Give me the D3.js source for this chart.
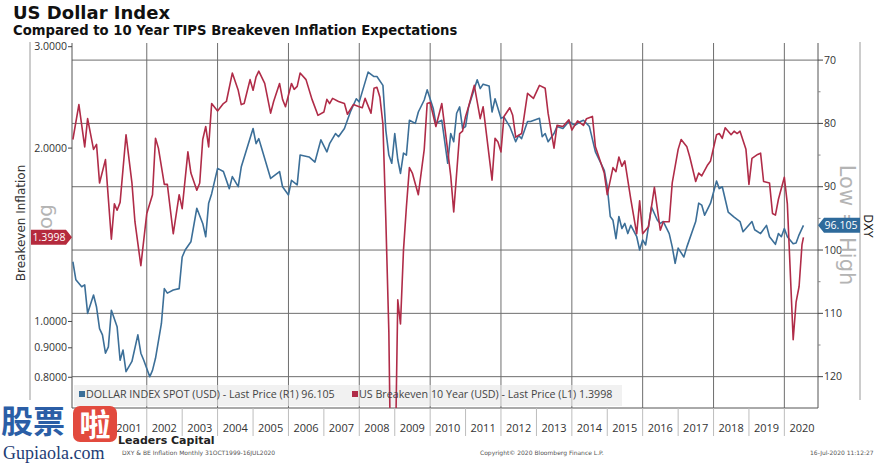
<!DOCTYPE html>
<html><head><meta charset="utf-8">
<script src="https://cdn.jsdelivr.net/npm/d3@7/dist/d3.min.js"></script>
<style>
html,body{margin:0;padding:0;background:#fff;}
svg{display:block;}
</style></head>
<body>
<svg id="chart" width="892" height="463"></svg>
<script>
// ---------- DATA ----------
const beDates = ["1999-12","2000-02","2000-04","2000-05","2000-07","2000-08","2000-09","2000-11","2001-01","2001-02","2001-03","2001-04","2001-06","2001-08","2001-09","2001-11","2002-01","2002-03","2002-04","2002-05","2002-07","2002-08","2002-10","2002-12","2003-01","2003-03","2003-04","2003-06","2003-07","2003-08","2003-09","2003-10","2003-11","2004-01","2004-03","2004-04","2004-06","2004-08","2004-09","2004-10","2004-12","2005-01","2005-02","2005-03","2005-05","2005-07","2005-08","2005-10","2005-11","2005-12","2006-02","2006-03","2006-04","2006-05","2006-07","2006-09","2006-11","2007-01","2007-02","2007-03","2007-04","2007-06","2007-08","2007-09","2007-11","2008-01","2008-02","2008-03","2008-05","2008-06","2008-07","2008-08","2008-09","2008-10","2008-11","2008-12","2009-01","2009-02","2009-03","2009-04","2009-05","2009-06","2009-07","2009-09","2009-11","2009-12","2010-01","2010-03","2010-05","2010-07","2010-08","2010-09","2010-11","2010-12","2011-01","2011-02","2011-04","2011-06","2011-07","2011-10","2011-11","2011-12","2012-01","2012-02","2012-04","2012-05","2012-06","2012-08","2012-10","2012-12","2013-02","2013-04","2013-05","2013-07","2013-08","2013-10","2013-12","2014-01","2014-03","2014-05","2014-06","2014-08","2014-09","2014-12","2015-01","2015-03","2015-04","2015-05","2015-06","2015-07","2015-09","2015-11","2015-12","2016-01","2016-03","2016-05","2016-07","2016-08","2016-10","2016-11","2017-01","2017-02","2017-04","2017-05","2017-07","2017-08","2017-09","2017-11","2017-12","2018-02","2018-03","2018-04","2018-05","2018-07","2018-08","2018-09","2018-10","2018-12","2019-01","2019-02","2019-04","2019-05","2019-06","2019-08","2019-09","2019-10","2019-11","2020-01","2020-02","2020-04","2020-05","2020-06","2020-07","2020-07-16"];
const beValues = [2.07,2.38,2.01,2.25,1.99,2.03,1.74,1.91,1.39,1.60,1.56,1.61,2.11,1.74,1.49,1.25,1.54,1.66,2.08,2.00,1.73,1.73,1.42,1.66,1.57,1.97,1.81,1.69,1.74,2.07,2.18,2.01,2.39,2.32,2.39,2.41,2.70,2.52,2.38,2.39,2.63,2.52,2.66,2.72,2.59,2.30,2.41,2.59,2.43,2.36,2.59,2.53,2.56,2.70,2.63,2.43,2.28,2.31,2.43,2.39,2.44,2.41,2.39,2.29,2.38,2.36,2.35,2.44,2.30,2.54,2.55,2.45,2.20,1.50,0.96,0.40,0.50,1.09,0.99,1.33,1.58,1.85,1.81,1.66,1.99,2.39,2.40,2.18,2.39,1.98,1.79,1.55,2.12,2.14,2.27,2.36,2.57,2.25,2.36,1.76,2.08,2.05,1.97,2.27,2.35,2.28,2.09,2.12,2.49,2.44,2.57,2.54,2.30,2.00,2.19,2.18,2.24,2.15,2.23,2.19,2.25,2.27,2.01,1.81,1.66,1.85,1.82,1.93,1.86,1.90,1.63,1.42,1.62,1.42,1.46,1.71,1.44,1.49,1.49,1.74,1.99,2.07,2.01,1.93,1.75,1.81,1.79,1.87,1.90,2.11,2.12,2.08,2.17,2.11,2.14,2.12,2.14,1.99,1.73,1.92,1.95,1.96,1.75,1.74,1.54,1.53,1.63,1.78,1.60,0.93,1.08,1.15,1.36,1.3998];

const dxyDates = ["1999-12","2000-01","2000-03","2000-04","2000-05","2000-07","2000-08","2000-09","2000-10","2000-11","2000-12","2001-01","2001-03","2001-04","2001-05","2001-06","2001-08","2001-10","2001-11","2001-12","2002-02","2002-03","2002-04","2002-06","2002-07","2002-08","2002-10","2002-12","2003-01","2003-02","2003-04","2003-06","2003-08","2003-09","2003-10","2003-11","2004-01","2004-03","2004-05","2004-06","2004-08","2004-09","2005-01","2005-02","2005-03","2005-04","2005-07","2005-10","2005-11","2006-01","2006-02","2006-04","2006-05","2006-08","2006-10","2006-12","2007-02","2007-03","2007-05","2007-06","2007-08","2007-10","2007-12","2008-01","2008-04","2008-06","2008-07","2008-09","2008-10","2008-11","2008-12","2009-01","2009-02","2009-03","2009-04","2009-05","2009-06","2009-08","2009-09","2009-11","2009-12","2010-02","2010-03","2010-05","2010-07","2010-08","2010-09","2010-10","2010-11","2010-12","2011-01","2011-02","2011-05","2011-06","2011-07","2011-09","2011-10","2011-11","2012-01","2012-02","2012-04","2012-06","2012-07","2012-08","2012-10","2012-11","2013-02","2013-03","2013-04","2013-05","2013-07","2013-08","2013-10","2013-12","2014-02","2014-04","2014-05","2014-07","2014-09","2014-12","2015-01","2015-02","2015-03","2015-04","2015-05","2015-06","2015-07","2015-08","2015-09","2015-11","2015-12","2016-01","2016-02","2016-04","2016-06","2016-07","2016-08","2016-10","2016-11","2016-12","2017-01","2017-03","2017-04","2017-07","2017-08","2017-09","2017-10","2017-12","2018-02","2018-03","2018-04","2018-06","2018-08","2018-10","2018-11","2019-02","2019-03","2019-05","2019-07","2019-08","2019-10","2019-11","2019-12","2020-01","2020-02","2020-04","2020-05","2020-06","2020-07-16"];
const dxyValues = [101.85,104.7,105.8,105.5,110.0,107.1,109.0,112.4,113.4,116.3,115.3,109.5,112.1,117.4,115.8,119.2,117.6,113.4,116.3,117.4,120.0,119.0,117.1,111.6,106.1,106.8,106.3,106.1,101.1,100.0,98.7,93.4,95.8,97.9,92.6,91.1,87.1,87.6,90.3,88.4,90.0,86.9,80.8,83.2,82.4,84.0,88.7,87.6,90.0,91.3,89.0,89.7,85.0,85.3,86.1,82.6,84.5,83.2,81.6,82.1,80.8,78.2,76.1,76.6,71.9,72.6,72.6,74.0,81.1,85.0,86.3,81.6,85.7,87.9,84.7,85.0,79.5,80.0,78.2,76.3,74.7,77.6,80.0,79.5,86.3,81.6,82.9,78.4,77.4,80.8,80.5,77.4,73.1,74.5,73.8,74.1,78.2,76.1,79.2,79.0,80.5,82.9,81.9,82.4,79.7,79.7,79.2,82.1,81.6,82.9,81.6,80.5,80.8,79.7,80.3,79.7,79.5,80.5,84.5,87.4,90.0,94.7,95.3,98.2,94.7,96.6,95.8,97.4,96.1,97.9,100.0,98.4,99.2,93.2,95.3,95.8,95.5,97.4,99.5,102.1,99.7,101.1,99.5,95.5,92.6,92.9,94.5,92.6,89.1,90.3,90.0,94.0,94.8,95.5,97.1,95.5,96.8,97.4,96.1,97.9,99.1,97.4,97.9,96.6,97.9,99.0,98.9,97.6,96.105];

const leftTicks = [3.0, 2.0, 1.0, 0.9, 0.8];
const rightTicks = [70, 80, 90, 100, 110, 120];
const rightMinor = [75, 85, 95, 105, 115];
const yearLabels = ["2001","2002","2003","2004","2005","2006","2007","2008","2009","2010","2011","2012","2013","2014","2015","2016","2017","2018","2019","2020"];
const gridYears = ["2002","2004","2006","2008","2010","2012","2014","2016","2018","2020"];
const beLast = 1.3998, dxyLast = 96.105;

// ---------- LAYOUT ----------
const svg = d3.select("#chart");
const L = 72, R = 818, T = 43, B = 408;
const BLUE = "#3c6f98", RED = "#b02c48", GRID = "#6e6e6e", TXT = "#333";
const tickFont = "'Open Sans', 'DejaVu Sans', sans-serif";

const x = d3.scaleUtc().domain([new Date(Date.UTC(1999,10,22)), new Date(Date.UTC(2020,11,13))]).range([L, R]);
const yR = d3.scaleLinear().domain([67.3, 124.95]).range([T, B]);
const yL = d3.scaleLog().domain([3.0447, 0.7075]).range([T, B]);
const yearStart = y => new Date(Date.UTC(+y, 0, 1));
const yearMid = y => new Date(Date.UTC(+y, 6, 1));

// titles
svg.append("text").attr("x", 13).attr("y", 19).attr("font-family", "'DejaVu Sans', sans-serif")
  .attr("font-weight", "bold").attr("font-size", 18).attr("fill", "#111").text("US Dollar Index");
svg.append("text").attr("x", 13).attr("y", 35).attr("font-family", "'DejaVu Sans', sans-serif")
  .attr("font-weight", "bold").attr("font-size", 13.2).attr("fill", "#111")
  .text("Compared to 10 Year TIPS Breakeven Inflation Expectations");

// axis side boxes
svg.append("line").attr("x1", 30).attr("x2", 30).attr("y1", 42).attr("y2", 400).attr("stroke", "#9a9a9a");
svg.append("line").attr("x1", 860).attr("x2", 860).attr("y1", 42).attr("y2", 400).attr("stroke", "#9a9a9a");

// grid
const g = svg.append("g");
g.selectAll(".hg").data(rightTicks).join("line")
  .attr("x1", L).attr("x2", R).attr("y1", d => yR(d)).attr("y2", d => yR(d))
  .attr("stroke", GRID).attr("stroke-width", 1);
g.selectAll(".vg").data(gridYears).join("line")
  .attr("x1", d => x(yearStart(d))).attr("x2", d => x(yearStart(d))).attr("y1", T).attr("y2", B)
  .attr("stroke", GRID).attr("stroke-width", 1);

// frame
svg.append("line").attr("x1", L).attr("x2", L).attr("y1", T).attr("y2", B).attr("stroke", "#555");
svg.append("line").attr("x1", R).attr("x2", R).attr("y1", T).attr("y2", B).attr("stroke", "#555");
svg.append("line").attr("x1", L).attr("x2", R).attr("y1", B).attr("y2", B).attr("stroke", "#555");

// year separators and labels
svg.selectAll(".ysep").data(yearLabels).join("line")
  .attr("x1", d => x(yearStart(d))).attr("x2", d => x(yearStart(d))).attr("y1", B).attr("y2", 436)
  .attr("stroke", "#bdbdbd");
svg.selectAll(".ylab").data(yearLabels).join("text")
  .attr("x", d => x(yearMid(d))).attr("y", 432).attr("text-anchor", "middle")
  .attr("font-family", tickFont).attr("font-size", 11).attr("fill", TXT).text(d => d);

// left axis ticks
svg.selectAll(".lt").data(leftTicks).join("line")
  .attr("x1", L - 4).attr("x2", L).attr("y1", d => yL(d)).attr("y2", d => yL(d)).attr("stroke", "#444");
svg.selectAll(".ll").data(leftTicks).join("text")
  .attr("x", L - 5).attr("y", d => yL(d) + 3.5).attr("text-anchor", "end")
  .attr("font-family", tickFont).attr("font-size", 10.5).attr("fill", TXT).text(d => d.toFixed(4));

// right axis ticks
svg.selectAll(".rt").data(rightTicks).join("line")
  .attr("x1", R).attr("x2", R + 5).attr("y1", d => yR(d)).attr("y2", d => yR(d)).attr("stroke", "#444");
svg.selectAll(".rm").data(rightMinor).join("line")
  .attr("x1", R).attr("x2", R + 2.5).attr("y1", d => yR(d)).attr("y2", d => yR(d)).attr("stroke", "#888");
svg.selectAll(".rl").data(rightTicks).join("text")
  .attr("x", R + 6).attr("y", d => yR(d) + 3.5)
  .attr("font-family", tickFont).attr("font-size", 10.5).attr("fill", TXT).text(d => d);

// axis titles
svg.append("text").attr("transform", "translate(25,223) rotate(-90)").attr("text-anchor", "middle")
  .attr("font-family", "'DejaVu Sans', sans-serif").attr("font-size", 12).attr("fill", TXT).text("Breakeven Inflation");
svg.append("text").attr("transform", "translate(52,222) rotate(-90)").attr("text-anchor", "middle")
  .attr("font-family", "'DejaVu Sans', sans-serif").attr("font-size", 20).attr("fill", "#b4b4b4").text("Log");
svg.append("text").attr("transform", "translate(840,225) rotate(90)").attr("text-anchor", "middle")
  .attr("font-family", "'DejaVu Sans', sans-serif").attr("font-size", 21).attr("fill", "#b4b4b4").text("Low = High");
svg.append("text").attr("transform", "translate(864,226) rotate(90)").attr("text-anchor", "middle")
  .attr("font-family", "'DejaVu Sans', sans-serif").attr("font-size", 11.5).attr("fill", "#222").text("DXY");

// legend background
svg.append("rect").attr("x", 74).attr("y", 385).attr("width", 548).attr("height", 21)
  .attr("fill", "#e8e8e8").attr("fill-opacity", 0.6);

// series
const parse = d3.isoParse;
svg.append("clipPath").attr("id", "pclip").append("rect")
  .attr("x", L).attr("y", T).attr("width", R - L).attr("height", B - T);
const lineR = d3.line().x(d => x(d[0])).y(d => yR(d[1]));
const lineL = d3.line().x(d => x(d[0])).y(d => yL(d[1]));
const dxy = dxyDates.map((d, i) => [parse(d), dxyValues[i]]);
const be = beDates.map((d, i) => [parse(d), beValues[i]]);
const pg = svg.append("g").attr("clip-path", "url(#pclip)");
pg.append("path").datum(dxy).attr("d", lineR).attr("fill", "none").attr("stroke", BLUE)
  .attr("stroke-width", 1.6).attr("stroke-linejoin", "round");
pg.append("path").datum(be).attr("d", lineL).attr("fill", "none").attr("stroke", RED)
  .attr("stroke-width", 1.6).attr("stroke-linejoin", "round");

// legend
const lg = svg.append("g").attr("font-family", tickFont).attr("font-size", 10.7).attr("fill", "#444");
lg.append("rect").attr("x", 79).attr("y", 391).attr("width", 6).attr("height", 6).attr("fill", BLUE);
lg.append("text").attr("x", 86).attr("y", 398).text("DOLLAR INDEX SPOT (USD) - Last Price (R1) 96.105");
lg.append("rect").attr("x", 352).attr("y", 391).attr("width", 6).attr("height", 6).attr("fill", RED);
lg.append("text").attr("x", 359).attr("y", 398).text("US Breakeven 10 Year (USD) - Last Price (L1) 1.3998");

// last-value tags
const yl = yL(beLast), yr = yR(dxyLast);
svg.append("path").attr("d", `M31,${yl-7.5} L66,${yl-7.5} L72,${yl} L66,${yl+7.5} L31,${yl+7.5} Z`).attr("fill", "#b52a3d");
svg.append("text").attr("x", 49).attr("y", yl + 3.8).attr("text-anchor", "middle").attr("font-family", tickFont)
  .attr("font-size", 10.5).attr("fill", "#fff").text(beLast.toFixed(4));
svg.append("path").attr("d", `M818,${yr} L824,${yr-7.5} L860,${yr-7.5} L860,${yr+7.5} L824,${yr+7.5} Z`).attr("fill", "#2e6a9b");
svg.append("text").attr("x", 841).attr("y", yr + 3.8).attr("text-anchor", "middle").attr("font-family", tickFont)
  .attr("font-size", 10.5).attr("fill", "#fff").text(dxyLast.toFixed(3));

// footer
svg.append("text").attr("x", 118).attr("y", 444).attr("font-family", "'DejaVu Sans', sans-serif")
  .attr("font-weight", "bold").attr("font-size", 11).attr("fill", "#222").text("Leaders Capital");
const ft = svg.append("g").attr("font-family", "'DejaVu Sans', sans-serif").attr("font-size", 6).attr("fill", "#555");
ft.append("text").attr("x", 122).attr("y", 455).text("DXY & BE Inflation  Monthly 31OCT1999-16JUL2020");
ft.append("text").attr("x", 480).attr("y", 455).text("Copyright© 2020 Bloomberg Finance L.P.");
ft.append("text").attr("x", 810).attr("y", 455).text("16-Jul-2020 11:12:27");

// watermark
const wm = svg.append("g");
wm.append("text").attr("x", 1).attr("y", 433).attr("font-family", "'Noto Sans CJK SC', sans-serif")
  .attr("font-weight", "bold").attr("font-size", 32).attr("fill", "#2b5ea6").text("股票");
wm.append("rect").attr("x", 73).attr("y", 406).attr("width", 44).attr("height", 36).attr("rx", 7).attr("fill", "#e24a3e");
wm.append("text").attr("x", 95).attr("y", 436).attr("text-anchor", "middle").attr("font-family", "'Noto Sans CJK SC', sans-serif")
  .attr("font-weight", "bold").attr("font-size", 31).attr("fill", "#fff").text("啦");
wm.append("text").attr("x", 3).attr("y", 459).attr("font-family", "'Liberation Serif', 'DejaVu Serif', serif")
  .attr("font-size", 18).attr("fill", "#1d3d75").text("Gupiaola.com");
</script>
</body></html>
